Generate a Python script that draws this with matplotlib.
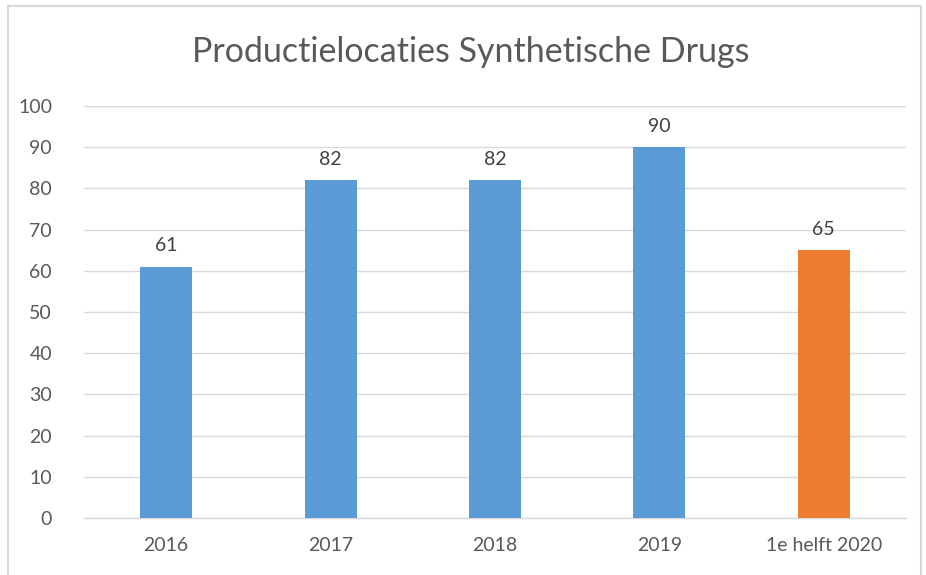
import matplotlib
matplotlib.use("Agg")
import matplotlib.pyplot as plt
import matplotlib.patches as mpatches

# ---- data ----
categories = ["2016", "2017", "2018", "2019", "1e helft 2020"]
values = [61, 82, 82, 90, 65]
bar_colors = ["#5b9bd5", "#5b9bd5", "#5b9bd5", "#5b9bd5", "#ed7d31"]
yticks = list(range(0, 101, 10))

plt.rcParams["font.family"] = ["Lato", "DejaVu Sans"]
text_col = "#595959"

fig = plt.figure(figsize=(9.26, 5.75), dpi=100)
ax = fig.add_axes([0.0907, 0.0991, 0.8877, 0.7166])

x = range(len(categories))
bars = ax.bar(x, values, width=0.316, color=bar_colors, zorder=3)

for xi, v in zip(x, values):
    ax.text(xi, v + 3, str(v), ha="center", va="bottom",
            fontsize=14, color="#404040", zorder=4)

ax.set_xlim(-0.5, len(categories) - 0.5)
ax.set_ylim(0, 100)
ax.set_yticks(yticks)
ax.set_xticks(list(x))
ax.set_xticklabels(categories)
ax.tick_params(axis="both", length=0, labelsize=14, labelcolor=text_col)
ax.tick_params(axis="y", pad=23)
ax.tick_params(axis="x", pad=14)
ax.yaxis.grid(True, color="#d9d9d9", linewidth=1.0, zorder=0)
for s in ["top", "right", "left"]:
    ax.spines[s].set_visible(False)
ax.spines["bottom"].set_color("#d9d9d9")
ax.spines["bottom"].set_linewidth(1.0)

fig.text(0.5086, 0.91, "Productielocaties Synthetische Drugs", ha="center",
         va="center", fontsize=24.5, color=text_col)

# outer chart border
border = mpatches.Rectangle((8 / 926, -0.01), (921 - 8) / 926, 1 - 6 / 575 + 0.01,
                            transform=fig.transFigure, fill=False,
                            edgecolor="#d9d9d9", linewidth=1.5)
fig.patches.append(border)

fig.savefig("out.png", dpi=100, facecolor="white")
plt.close()
